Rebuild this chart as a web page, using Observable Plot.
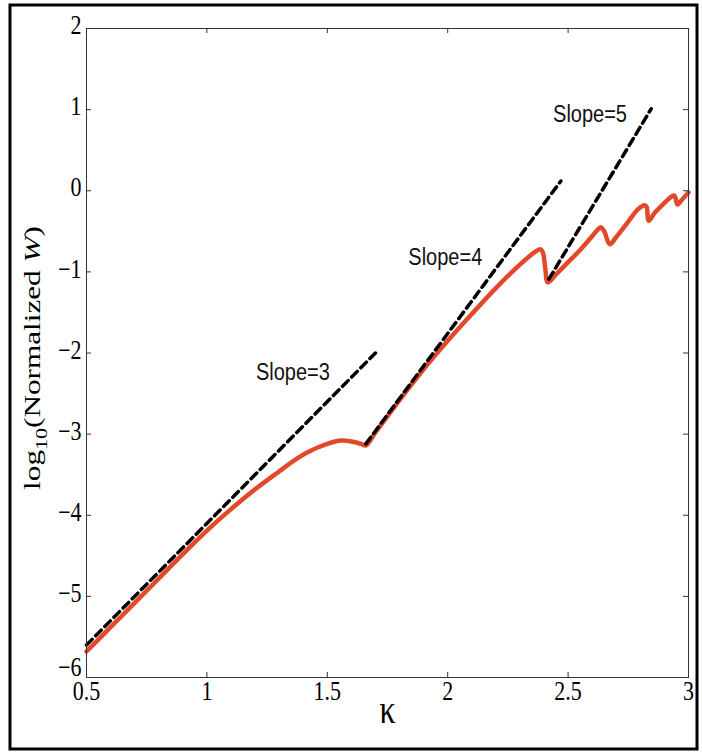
<!DOCTYPE html>
<html><head><meta charset="utf-8">
<script src="https://cdn.jsdelivr.net/npm/d3@7"></script>
<script src="https://cdn.jsdelivr.net/npm/@observablehq/plot@0.6"></script>
<style>body{margin:0;background:#fff;} #chart{position:relative;width:702px;height:753px;}</style>
</head><body><div id="chart"></div>
<script>
// Red curve: kappa vs log10(Normalized W)
const kappa = [0.5,0.6,0.7,0.8,0.9,1.0,1.1,1.2,1.3,1.36,1.42,1.5,1.557,1.6,1.64,1.66,
  1.7,1.8,1.9,2.0,2.1,2.2,2.3,2.36,2.385,2.395,2.405,2.416,
  2.45,2.5,2.55,2.6,2.62,2.635,2.65,2.673,2.7,2.75,2.79,2.818,2.826,2.835,2.86,2.9,2.93,2.942,2.954,2.97,3.0];
const logW = [-5.68,-5.38,-5.08,-4.78,-4.48,-4.19,-3.925,-3.68,-3.46,-3.33,-3.22,-3.12,-3.08,-3.09,-3.12,-3.14,
  -2.98,-2.58,-2.2,-1.85,-1.52,-1.2,-0.91,-0.76,-0.72,-0.76,-0.95,-1.13,
  -1.03,-0.88,-0.73,-0.56,-0.49,-0.45,-0.5,-0.66,-0.57,-0.38,-0.23,-0.18,-0.2,-0.37,-0.27,-0.15,-0.07,-0.06,-0.17,-0.12,-0.02];
// Reference slope lines (dashed)
const slopeNames = ["Slope=3","Slope=4","Slope=5"];
const slopeK0 = [0.5, 1.66, 2.42];
const slopeW0 = [-5.6, -3.12, -1.09];
const slopeK1 = [1.7, 2.47, 2.845];
const slopeW1 = [-2.0, 0.12, 1.01];
// Label positions
const labelK = [1.357, 1.99, 2.591];
const labelW = [-2.23, -0.82, 0.95];
const xTicks = [0.5,1,1.5,2,2.5,3];
const yTicks = [-6,-5,-4,-3,-2,-1,0,1,2];

const curve = kappa.map((k,i)=>({k, w: logW[i]}));
const dashed = slopeNames.flatMap((s,i)=>[{s,k:slopeK0[i],w:slopeW0[i]},{s,k:slopeK1[i],w:slopeW1[i]}]);
const labels = slopeNames.map((s,i)=>({s,k:labelK[i],w:labelW[i]}));
const fmt = d3.format("");
const serif = "Liberation Serif, Times New Roman, serif";
const W = 702, H = 753, ML = 86, MR = 14, MT = 28, MB = 76;
const pw = W - ML - MR, ph = H - MT - MB, tk = 5;
const yLow = yTicks.filter(d => d === -6), yRest = yTicks.filter(d => d !== -6);

const plot = Plot.plot({
  width: W, height: H,
  marginLeft: ML, marginRight: MR, marginTop: MT, marginBottom: MB,
  style: {background: "white", fontFamily: serif, color: "black", overflow: "visible"},
  x: {domain: [0.5, 3], axis: null},
  y: {domain: [-6, 2], axis: null},
  marks: [
    Plot.line(curve, {x: "k", y: "w", stroke: "#e2492a", strokeWidth: 4.5, curve: "catmull-rom"}),
    Plot.line(dashed, {x: "k", y: "w", z: "s", stroke: "black", strokeWidth: 3.5, strokeDasharray: "8,5"}),
    Plot.text(labels, {x: "k", y: "w", text: "s", fontSize: 20, fontFamily: "Liberation Sans, Arial, sans-serif", fill: "#111"}),
    // inward tick marks on all four sides
    Plot.tickX(xTicks, {x: d => d, insetTop: ph - tk, stroke: "#333"}),
    Plot.tickX(xTicks, {x: d => d, insetBottom: ph - tk, stroke: "#333"}),
    Plot.tickY(yTicks, {y: d => d, insetRight: pw - tk, stroke: "#333"}),
    Plot.tickY(yTicks, {y: d => d, insetLeft: pw - tk, stroke: "#333"}),
    Plot.frame({stroke: "#333", strokeWidth: 1}),
    // tick labels
    Plot.text(xTicks, {x: d => d, text: d => fmt(d), frameAnchor: "bottom", lineAnchor: "top", dy: 5, fontSize: 22, fill: "black"}),
    Plot.text(yRest, {y: d => d, text: d => fmt(d), frameAnchor: "left", textAnchor: "end", dx: -5, dy: -3, fontSize: 22, fill: "black"}),
    Plot.text(yLow, {y: d => d, text: d => fmt(d), frameAnchor: "left", textAnchor: "end", dx: -5, dy: -10, fontSize: 22, fill: "black"}),
    Plot.text(["κ"], {frameAnchor: "bottom", dy: 43, fontSize: 32, fontFamily: serif, fill: "black"})
  ]
});
document.getElementById("chart").appendChild(plot);

const svg = d3.select(plot);
// y-axis title with subscript and italic W
const yl = svg.append("text")
  .attr("text-anchor", "middle")
  .attr("font-family", serif)
  .attr("font-size", 24)
  .attr("fill", "black");
yl.append("tspan").text("log");
yl.append("tspan").attr("font-size", 17).attr("dy", 7).text("10");
yl.append("tspan").attr("dy", -7).text("(Normalized ");
yl.append("tspan").attr("font-style", "italic").text("W");
yl.append("tspan").text(")");

// stretch text glyphs vertically like the reference
svg.selectAll("text").each(function() {
  if (this === yl.node()) {
    this.setAttribute("transform", "translate(40,358) scale(1,1.3) rotate(-90)");
    return;
  }
  const b = this.getBBox();
  const cx = b.x + b.width / 2, cy = b.y + b.height / 2;
  const t = this.getAttribute("transform") || "";
  this.setAttribute("transform", `${t} translate(${cx},${cy}) scale(1,1.22) translate(${-cx},${-cy})`);
});

// outer border
svg.append("rect").attr("x", 10).attr("y", 5).attr("width", 687).attr("height", 744)
  .attr("fill", "none").attr("stroke", "black").attr("stroke-width", 3);
</script>
</body></html>
